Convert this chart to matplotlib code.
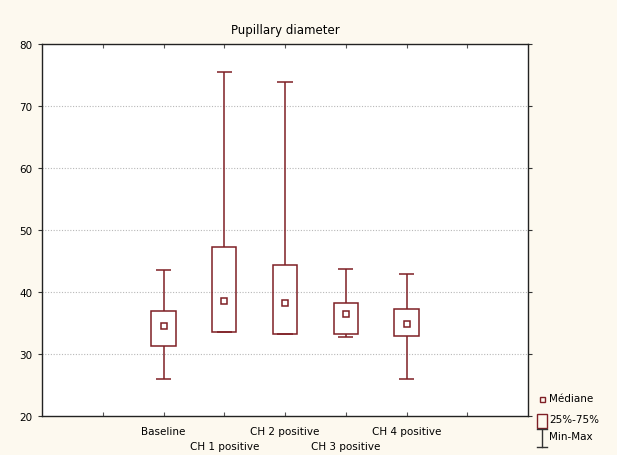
import matplotlib
matplotlib.use('Agg')
import matplotlib.pyplot as plt
from matplotlib.patches import Rectangle
from matplotlib.lines import Line2D
import numpy as np

# data
groups = ['Baseline', 'CH 1 positive', 'CH 2 positive', 'CH 3 positive', 'CH 4 positive']
medians = [34.5, 38.6, 38.2, 36.4, 34.9]
q1 = [31.3, 33.6, 33.2, 33.2, 32.9]
q3 = [37.0, 47.3, 44.4, 38.2, 37.2]
mins = [25.9, 33.6, 33.2, 32.8, 25.9]
maxs = [43.6, 75.5, 73.9, 43.7, 42.9]
yticks = [20, 30, 40, 50, 60, 70, 80]

col = '#7f1f25'
bg = '#fdf9ef'
plt.rcParams['font.family'] = ['DejaVu Sans']

fig = plt.figure(figsize=(6.17, 4.56), dpi=100, facecolor=bg)
ax = fig.add_axes([0.068, 0.0855, 0.788, 0.8158])
ax.set_facecolor('white')

x = np.arange(2, 2 + len(groups))
bw = 0.4
cw = 0.25

for yv in yticks[1:-1]:
    ax.axhline(yv, color='#b8b8b8', lw=0.8, ls=(0, (1, 1.5)), zorder=0)

ax.bar(x, np.array(q3) - np.array(q1), bottom=q1, width=bw, fill=False,
       edgecolor=col, lw=1.1, zorder=2)
ax.vlines(x, q3, maxs, color=col, lw=1.1)
ax.vlines(x, mins, q1, color=col, lw=1.1)
ax.hlines(maxs, x - cw / 2, x + cw / 2, color=col, lw=1.1)
ax.hlines(mins, x - cw / 2, x + cw / 2, color=col, lw=1.1)
ax.plot(x, medians, ls='', marker='s', ms=4.5, mfc='white', mec=col, mew=1.1, zorder=3)

ax.set_xlim(0, 8)
ax.set_ylim(20, 80)
ax.set_yticks(yticks)
ax.set_yticklabels([str(v) for v in yticks], fontsize=7.5)
ax.set_xticks(np.arange(1, 8))
ax.set_xticklabels([])
ax.tick_params(axis='x', direction='in', length=3, top=True, color='#555555')
ax.tick_params(axis='y', direction='out', length=3, right=True, color='#333333', pad=4)
for s in ax.spines.values():
    s.set_linewidth(1.0)
    s.set_color('#222222')

# staggered category labels (offsets in points below the axis)
for i, (xv, g) in enumerate(zip(x, groups)):
    dy = -7 if i % 2 == 0 else -18
    ax.annotate(g, (xv, 0), xycoords=('data', 'axes fraction'),
                xytext=(0, dy), textcoords='offset points',
                fontsize=7.5, ha='center', va='top')

ax.set_title('Pupillary diameter', fontsize=8.5, pad=8)

# legend drawn by hand at the right
W, H = 617, 456
def fx(px):
    return px / W
def fy(py):
    return 1 - py / H
fig.add_artist(Rectangle((fx(540), fy(403)), fx(5), 5 / H, fill=False, ec=col, lw=1.0))
fig.text(fx(549), fy(399), 'Médiane', fontsize=7.5, va='center')
fig.add_artist(Rectangle((fx(537), fy(429)), fx(10), 14 / H, fill=False, ec=col, lw=1.0))
fig.text(fx(549), fy(420), '25%-75%', fontsize=7.5, va='center')
fig.add_artist(Line2D([fx(542), fx(542)], [fy(430), fy(448)], color='#333333', lw=1.0))
fig.add_artist(Line2D([fx(537), fx(547)], [fy(430), fy(430)], color='#333333', lw=1.0))
fig.add_artist(Line2D([fx(537), fx(547)], [fy(448), fy(448)], color='#333333', lw=1.0))
fig.text(fx(549), fy(437), 'Min-Max', fontsize=7.5, va='center')

fig.savefig('out.png', dpi=100, facecolor=bg)
